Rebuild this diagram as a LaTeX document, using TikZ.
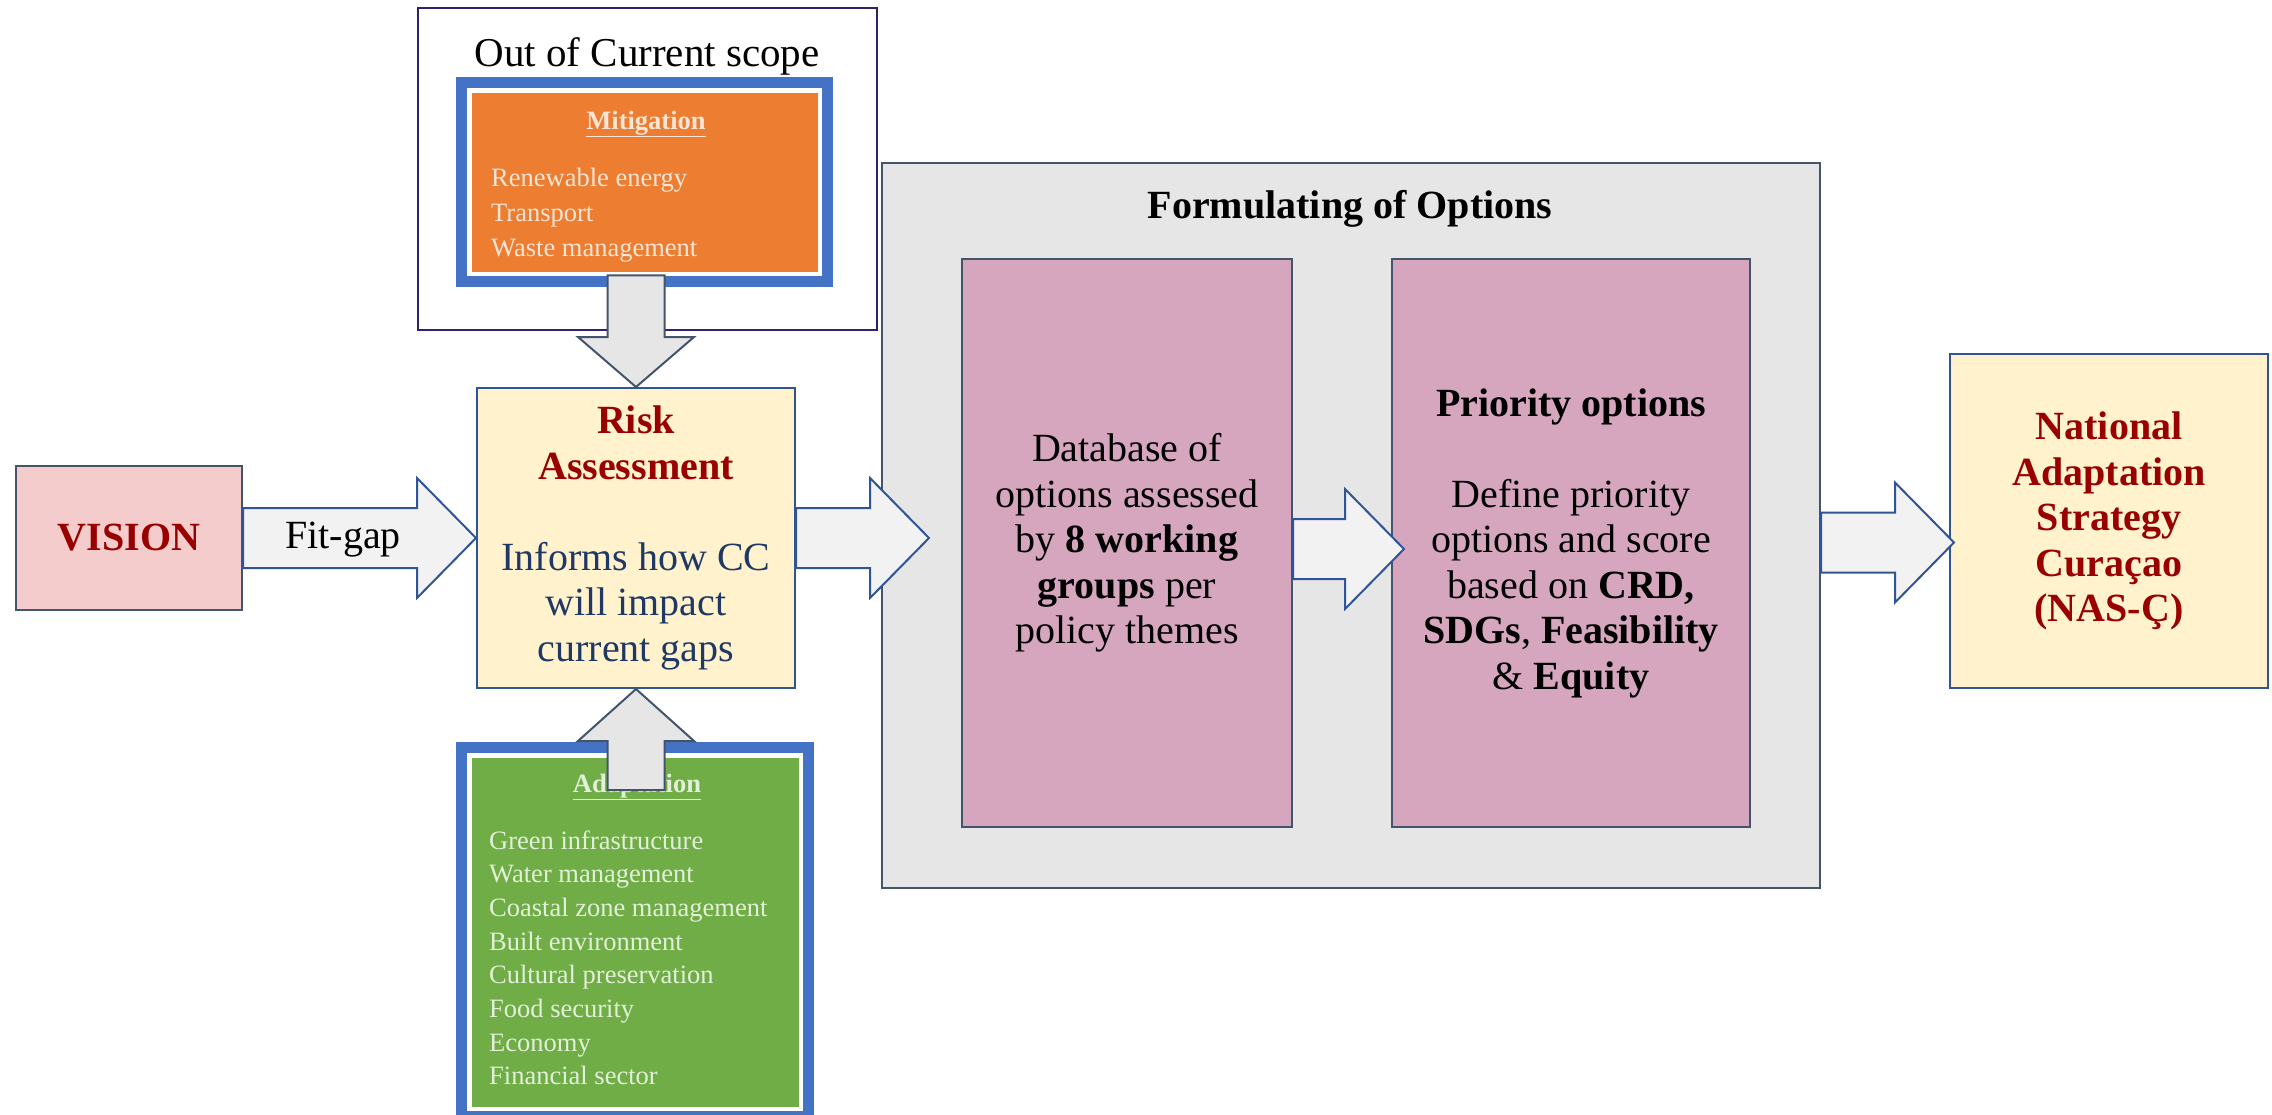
\documentclass[tikz,border=0pt]{standalone}
\usepackage{fontspec}
\setmainfont{Liberation Serif}
\usetikzlibrary{calc}
\definecolor{cRed}{RGB}{153,0,0}
\definecolor{cNavy}{RGB}{31,56,100}
\definecolor{cPink}{RGB}{244,204,204}
\definecolor{cCream}{RGB}{255,242,204}
\definecolor{cGrey}{RGB}{231,230,230}
\definecolor{cMauve}{RGB}{213,166,189}
\definecolor{cOrange}{RGB}{237,125,49}
\definecolor{cFrame}{RGB}{68,114,196}
\definecolor{cGreen}{RGB}{112,173,71}
\definecolor{cArrowFill}{RGB}{242,242,242}
\definecolor{cArrowLine}{RGB}{47,85,151}
\definecolor{cSlate}{RGB}{68,84,106}
\definecolor{cPurple}{RGB}{48,32,112}
\definecolor{cLightO}{RGB}{251,229,214}
\definecolor{cLightG}{RGB}{226,240,217}
\newcommand\bigfont{\fontsize{40}{45.5}\selectfont}
\newcommand\smallfont{\fontsize{26.5}{33}\selectfont}
\newcommand\rb[1]{\textcolor{cRed}{\textbf{#1}}}
\newcommand\bl[1]{\textcolor{cNavy}{#1}}
\newcommand\harrow[2]{%
  \draw[hblock] let \p1=(#1), \p2=(#2) in
    (\x1,\y1+30pt) -- (\x2-59pt,\y1+30pt) -- (\x2-59pt,\y1+60pt) -- (\x2,\y1)
    -- (\x2-59pt,\y1-60pt) -- (\x2-59pt,\y1-30pt) -- (\x1,\y1-30pt) -- cycle;}
\begin{document}
\begin{tikzpicture}[x=1pt,y=-1pt,
  boxbase/.style={anchor=north west, inner sep=0pt, line width=2pt, align=center, font=\bigfont},
  slatebox/.style={boxbase, draw=cSlate},
  bluebox/.style={boxbase, draw=cArrowLine},
  framebox/.style={anchor=north west, inner sep=0pt, fill=cFrame},
  hblock/.style={draw=cArrowLine, fill=cArrowFill, line width=2pt},
  vblock/.style={draw=cSlate, fill=cGrey, line width=2pt},
  itemO/.style={anchor=base west, inner sep=0pt, font=\smallfont, text=cLightO},
  itemG/.style={anchor=base west, inner sep=0pt, font=\smallfont, text=cLightG},
  label/.style={inner sep=0pt, font=\bigfont, align=center},
]
\useasboundingbox (0,0) rectangle (2272,1114);
\fill[white] (0,0) rectangle (2272,1114);

% Out of current scope
\node[boxbase, draw=cPurple, minimum width=459pt, minimum height=322pt] (scope) at (417,7) {};
\node[label, font=\fontsize{41}{46}\selectfont] (scopetitle) at (647,56) {Out of Current scope};

% Mitigation frame
\node[framebox, minimum width=377pt, minimum height=210pt] (mitig) at (456,77) {};
\fill[white] ($(mitig.north west)+(11,11)$) rectangle ($(mitig.south east)+(-11,-11)$);
\fill[cOrange] ($(mitig.north west)+(15.5,15.5)$) rectangle ($(mitig.south east)+(-15.5,-15.5)$);
\node[inner sep=0pt, font=\smallfont, text=cLightO] (mittitle) at (646,124) {\underline{\textbf{Mitigation}}};
\foreach \t [count=\i] in {Renewable energy, Transport, Waste management}
  \node[itemO] (mit\i) at (491,{186+(\i-1)*35}) {\t};

% Adaptation frame (runs past the lower edge)
\node[framebox, minimum width=358pt, minimum height=380pt] (adapt) at (456,742) {};
\fill[white] ($(adapt.north west)+(11,11)$) rectangle ($(adapt.south east)+(-11,-11)$);
\fill[cGreen] ($(adapt.north west)+(15.5,15.5)$) rectangle ($(adapt.south east)+(-15.5,-15.5)$);
\node[inner sep=0pt, font=\smallfont, text=cLightG] (adtitle) at (637,787) {\underline{\textbf{Adaptation}}};
\foreach \t [count=\i] in {Green infrastructure, Water management, Coastal zone management, Built environment, Cultural preservation, Food security, Economy, Financial sector}
  \node[itemG] (ad\i) at (489,{849+(\i-1)*33.7}) {\t};

% Main boxes
\node[slatebox, fill=cPink, minimum width=226pt, minimum height=144pt] (vision) at (15,465) {\rb{VISION}};
\node[bluebox, fill=cCream, minimum width=318pt, minimum height=300pt] (risk) at (476,387)
  {\rb{Risk}\\ \rb{Assessment}\\[45.5pt] \bl{Informs how CC}\\ \bl{will impact}\\ \bl{current gaps}};
\node[slatebox, fill=cGrey, minimum width=938pt, minimum height=725pt] (form) at (881,162) {};
\node[label] (formtitle) at (1350,209) {\textbf{Formulating of Options}};
\node[slatebox, fill=cMauve, minimum width=330pt, minimum height=568pt] (db) at (961,258)
  {Database of\\ options assessed\\ by \textbf{8 working}\\ \textbf{groups} per\\ policy themes};
\node[slatebox, fill=cMauve, minimum width=358pt, minimum height=568pt] (prio) at (1391,258)
  {\textbf{Priority options}\\[45.5pt] Define priority\\ options and score\\ based on \textbf{CRD,}\\ \textbf{SDGs}, \textbf{Feasibility}\\ \& \textbf{Equity}};
\node[bluebox, fill=cCream, minimum width=318pt, minimum height=334pt] (nas) at (1949,353)
  {\rb{National}\\ \rb{Adaptation}\\ \rb{Strategy}\\ \rb{Curaçao}\\ \rb{(NAS-Ç)}};

% Block arrows
\harrow{vision.east}{risk.west}
\node[label] (fitgap) at (343,540) {Fit-gap};
\coordinate (t2) at ($(form.west)+(48,0)$);
\harrow{risk.east}{t2}
\coordinate (s3) at ($(db.east)+(0,6)$);
\coordinate (t3) at ($(prio.west)+(13,0)$);
\harrow{s3}{t3}
\coordinate (s4) at ($(form.east)+(0,17)$);
\coordinate (t4) at ($(nas.west)+(5,0)$);
\harrow{s4}{t4}

\coordinate (mtop) at ($(mitig.south)+(0,-12)$);
\draw[vblock] let \p1=(mtop), \p2=(risk.north) in
  (\x2-28.5pt,\y1) -- (\x2-28.5pt,\y2+50pt) -- (\x2-58pt,\y2+50pt) -- (\x2,\y2)
  -- (\x2+58pt,\y2+50pt) -- (\x2+28.5pt,\y2+50pt) -- (\x2+28.5pt,\y1) -- cycle;
\coordinate (abot) at ($(adapt.north)+(0,48)$);
\draw[vblock] let \p1=(abot), \p2=(risk.south) in
  (\x2-28.5pt,\y1) -- (\x2-28.5pt,\y2-52pt) -- (\x2-58pt,\y2-52pt) -- (\x2,\y2)
  -- (\x2+58pt,\y2-52pt) -- (\x2+28.5pt,\y2-52pt) -- (\x2+28.5pt,\y1) -- cycle;
\end{tikzpicture}
\end{document}
